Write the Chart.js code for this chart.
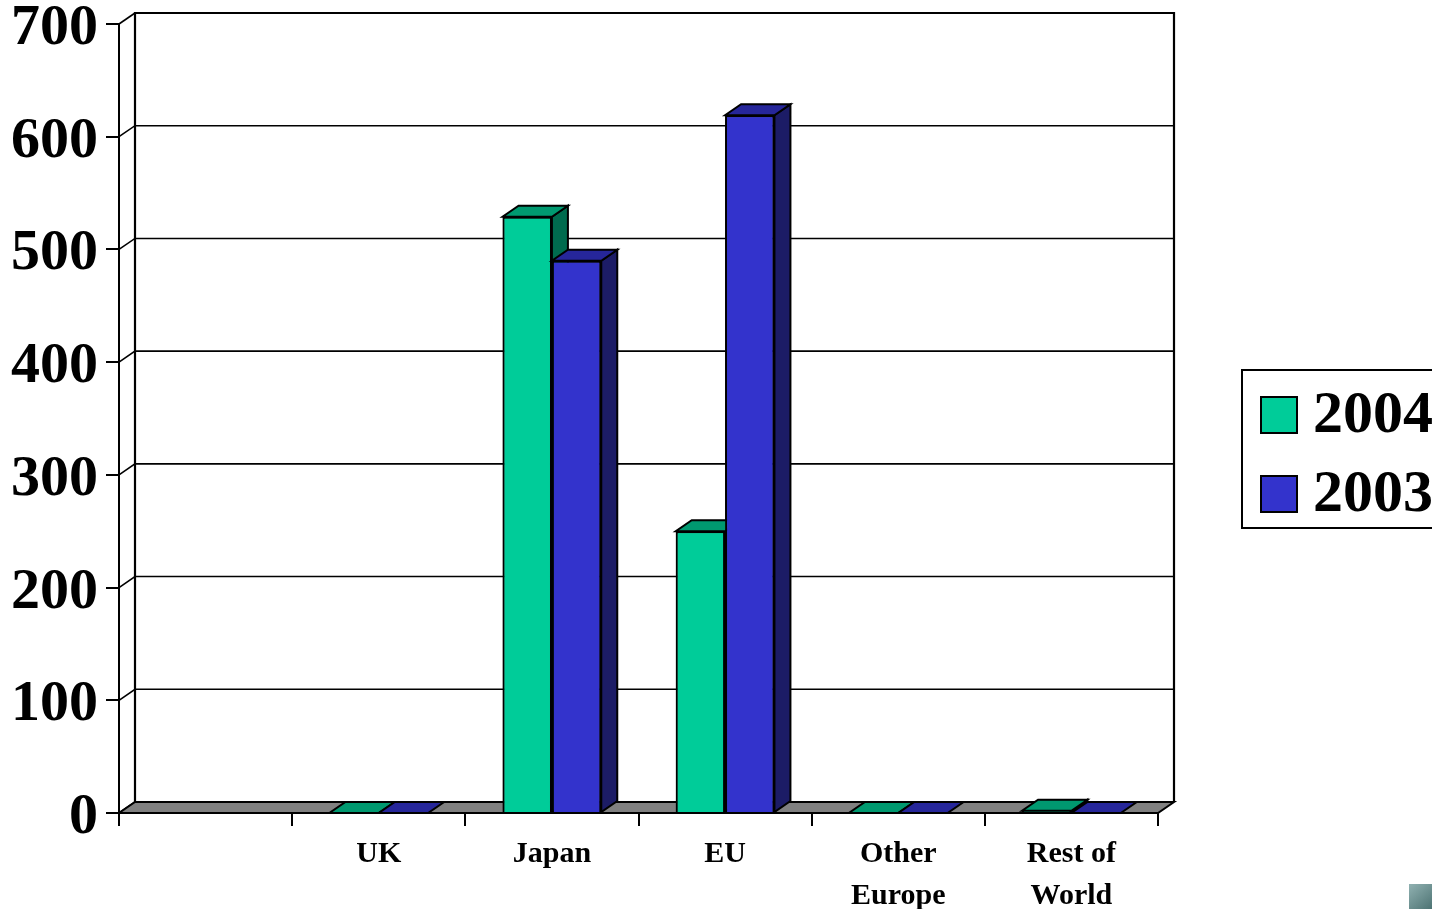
<!DOCTYPE html>
<html lang="en">
<head>
<meta charset="UTF-8">
<title>2004 vs 2003</title>
<script src="https://cdn.jsdelivr.net/npm/chart.js"></script>
<style>
  html, body { margin: 0; padding: 0; background: #fff; }
  #wrap { width: 1432px; height: 909px; position: relative; }
</style>
</head>
<body>
<div id="wrap"><canvas id="chart" width="1432" height="909"></canvas></div>
<script>
// data
const categories = ['', 'UK', 'Japan', 'EU', ['Other', 'Europe'], ['Rest of', 'World']];
const values2004 = [null, 0, 529, 250, 0, 2];
const values2003 = [null, 0, 490, 619, 0, 0];
const yTicks = [0, 100, 200, 300, 400, 500, 600, 700];

const serif = "'Liberation Serif', 'Times New Roman', serif";
const DX = 16, DY = -11; // 3d depth offset

const faces = [
  { front: '#00CC99', top: '#009970', side: '#006B4E' },
  { front: '#3333CC', top: '#26269A', side: '#1C1C66' }
];

function poly(ctx, pts, fill) {
  ctx.beginPath();
  ctx.moveTo(pts[0][0], pts[0][1]);
  for (let i = 1; i < pts.length; i++) ctx.lineTo(pts[i][0], pts[i][1]);
  ctx.closePath();
  ctx.fillStyle = fill;
  ctx.fill();
  ctx.stroke();
}

const wallPlugin = {
  id: 'wall',
  beforeDraw(chart) {
    // nudge the y tick labels down a little, like the original
    chart.scales.y.getLabelItems(chart.chartArea).forEach(it => { it.options.translation[1] += 5; });
  },
  beforeDatasetsDraw(chart) {
    const { ctx, chartArea: a, scales: { y } } = chart;
    ctx.save();
    ctx.strokeStyle = '#000';
    // gridlines on back wall + diagonals on side wall
    ctx.lineWidth = 1.6;
    yTicks.forEach(v => {
      const py = y.getPixelForValue(v);
      ctx.beginPath();
      ctx.moveTo(a.left, py);
      ctx.lineTo(a.left + DX, py + DY);
      if (v > 0 && v < 700) ctx.lineTo(a.right + DX, py + DY);
      ctx.stroke();
    });
    // back wall frame
    ctx.lineWidth = 2.2;
    const top = y.getPixelForValue(700) + DY, bot = y.getPixelForValue(0) + DY;
    ctx.beginPath();
    ctx.moveTo(a.left + DX, bot);
    ctx.lineTo(a.left + DX, top);
    ctx.lineTo(a.right + DX, top);
    ctx.lineTo(a.right + DX, bot);
    ctx.stroke();
    // floor
    const b = y.getPixelForValue(0);
    ctx.lineWidth = 2;
    poly(ctx, [[a.left, b], [a.right, b], [a.right + DX, b + DY], [a.left + DX, b + DY]], '#808080');
    ctx.restore();
  },
  afterDatasetsDraw(chart) {
    // redraw each series in index order so 2003 sits over the 2004 side face
    const { ctx } = chart;
    chart.data.datasets.forEach((ds, idx) => {
      const meta = chart.getDatasetMeta(idx);
      const col = faces[idx];
      meta.data.forEach((el, i) => {
        if (ds.data[i] === null) return;
        el.draw(ctx, chart.chartArea);
        const l = el.x - el.width / 2, r = el.x + el.width / 2;
        const t = el.y, base = el.base;
        ctx.save();
        ctx.strokeStyle = '#000';
        ctx.lineWidth = 2;
        if (base - t > 0.5) {
          poly(ctx, [[r, t], [r + DX, t + DY], [r + DX, base + DY], [r, base]], col.side);
        }
        poly(ctx, [[l, t], [r, t], [r + DX, t + DY], [l + DX, t + DY]], col.top);
        ctx.restore();
      });
    });
  },
  afterDraw(chart) {
    const { ctx } = chart;
    ctx.save();
    // legend box
    ctx.strokeStyle = '#000';
    ctx.lineWidth = 2;
    ctx.fillStyle = '#fff';
    ctx.fillRect(1242, 370, 200, 158);
    ctx.strokeRect(1242, 370, 200, 158);
    const rows = [415, 494];
    chart.data.datasets.forEach((ds, i) => {
      ctx.fillStyle = faces[i].front;
      ctx.fillRect(1261, rows[i] - 18, 36, 36);
      ctx.strokeRect(1261, rows[i] - 18, 36, 36);
      ctx.fillStyle = '#000';
      ctx.font = 'bold 60px ' + serif;
      ctx.textBaseline = 'middle';
      ctx.fillText(ds.label, 1313, rows[i] + 1);
    });
    // small corner icon
    const g = ctx.createLinearGradient(1410, 884, 1432, 909);
    g.addColorStop(0, '#8fb0b0');
    g.addColorStop(1, '#4d7373');
    ctx.fillStyle = g;
    ctx.fillRect(1409, 884, 23, 25);
    ctx.restore();
  }
};

new Chart(document.getElementById('chart'), {
  type: 'bar',
  data: {
    labels: categories,
    datasets: [
      { label: '2004', data: values2004, backgroundColor: faces[0].front, borderColor: '#000', borderWidth: 2 },
      { label: '2003', data: values2003, backgroundColor: faces[1].front, borderColor: '#000', borderWidth: 2 }
    ]
  },
  options: {
    responsive: false,
    animation: false,
    events: [],
    layout: { padding: { left: 0, right: 274, top: 24, bottom: 0 } },
    datasets: { bar: { categoryPercentage: 0.57, barPercentage: 1.0, borderSkipped: 'start' } },
    plugins: { legend: { display: false }, tooltip: { enabled: false } },
    scales: {
      x: {
        grid: { drawOnChartArea: false, drawTicks: true, tickLength: 13, color: '#000', lineWidth: 2, offset: true },
        border: { display: true, color: '#000', width: 2 },
        ticks: { color: '#000', font: { family: serif, weight: 'bold', size: 30, lineHeight: 1.38 }, padding: 8, maxRotation: 0, autoSkip: false },
        afterFit(s) { s.height = 96; s.paddingLeft = 0; s.paddingRight = 0; }
      },
      y: {
        min: 0, max: 700,
        afterBuildTicks(s) { s.ticks = yTicks.map(v => ({ value: v })); },
        grid: { drawOnChartArea: false, drawTicks: true, tickLength: 13, color: '#000', lineWidth: 2 },
        border: { display: true, color: '#000', width: 2 },
        ticks: { color: '#000', font: { family: serif, weight: 'bold', size: 58 }, padding: 8 },
        afterFit(s) { s.width = 119; s.paddingTop = 0; s.paddingBottom = 0; }
      }
    }
  },
  plugins: [wallPlugin]
});
</script>
</body>
</html>
